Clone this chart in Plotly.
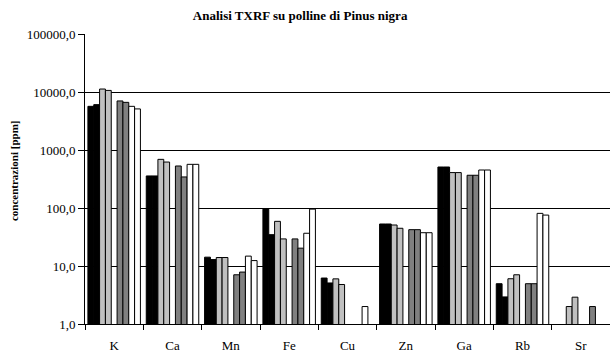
import plotly.graph_objects as go

# Elements measured by TXRF on Pinus nigra pollen
elements = ["K", "Ca", "Mn", "Fe", "Cu", "Zn", "Ga", "Rb", "Sr"]

# Concentrations in ppm, one list per sample (None = not detected)
black_1 = [5660, 357, 14.2, 95.7, 6.2, 53.0, 509, 4.95, None]
black_2 = [6055, 357, 12.9, 34.7, 5.1, 53.0, 509, 2.93, None]
lgray_1 = [11250, 690, 14.0, 58.9, 6.0, 50.9, 408, 6.03, 2.0]
lgray_2 = [10650, 620, 14.0, 29.3, 4.8, 44.7, 408, 7.06, 2.9]
empty_5 = [None] * 9
dgray_1 = [7010, 530, 7.06, 29.3, None, 42.3, 367, 4.95, None]
dgray_2 = [6630, 343, 7.86, 20.3, None, 42.3, 367, 4.95, 2.0]
white_1 = [5660, 566, 14.8, 36.7, 2.0, 37.5, 452, 80.8, None]
white_2 = [5110, 566, 12.4, 95.7, None, 37.5, 452, 75.5, None]

series = [black_1, black_2, lgray_1, lgray_2, empty_5,
          dgray_1, dgray_2, white_1, white_2]
colors = ["#000000", "#000000", "#C0C0C0", "#C0C0C0", "#FFFFFF",
          "#808080", "#808080", "#FFFFFF", "#FFFFFF"]

tick_vals = [1, 10, 100, 1000, 10000, 100000]
tick_text = ["1,0", "10,0", "100,0", "1000,0", "10000,0", "100000,0"]

FONT = "Liberation Serif, Times New Roman, serif"

fig = go.Figure()
slot = 0.1
for i, (vals, col) in enumerate(zip(series, colors)):
    fig.add_trace(go.Bar(
        x=elements,
        y=vals,
        width=slot,
        offset=-0.45 + slot * i,
        marker=dict(color=col, line=dict(color="#000000", width=1)),
        showlegend=False,
        hoverinfo="x+y",
    ))

fig.update_layout(
    width=610, height=353,
    margin=dict(l=85, r=0, t=34, b=27),
    paper_bgcolor="white",
    plot_bgcolor="white",
    barmode="overlay",
    font=dict(family=FONT, size=13, color="#000000"),
    title=dict(
        text="<b>Analisi TXRF su polline di Pinus nigra</b>",
        x=0.492, xref="container", xanchor="center",
        y=1 - 15 / 353, yref="container", yanchor="middle",
        font=dict(family=FONT, size=13, color="#000000"),
    ),
    xaxis=dict(
        range=[-0.5, 8.5],
        showgrid=False,
        showline=True, linecolor="#000000", linewidth=1,
        ticks="outside", tickson="boundaries", ticklen=5,
        tickcolor="#000000",
        ticklabelstandoff=9,
        tickfont=dict(family=FONT, size=13),
        fixedrange=True,
    ),
    yaxis=dict(
        type="log",
        range=[0, 5],
        tickvals=tick_vals, ticktext=tick_text,
        showgrid=True, gridcolor="#000000", gridwidth=1,
        showline=True, linecolor="#000000", linewidth=1,
        ticks="outside", ticklen=6, tickcolor="#000000",
        zeroline=False,
        tickfont=dict(family=FONT, size=13),
        fixedrange=True,
    ),
    annotations=[dict(
        text="<b>concentrazioni [ppm]</b>",
        xref="paper", yref="paper",
        x=(14 - 85) / 525, y=(326 - 172) / 292,
        xanchor="center", yanchor="middle",
        textangle=-90, showarrow=False,
        font=dict(family=FONT, size=11, color="#000000"),
    )],
)

fig.write_html("out.html")
